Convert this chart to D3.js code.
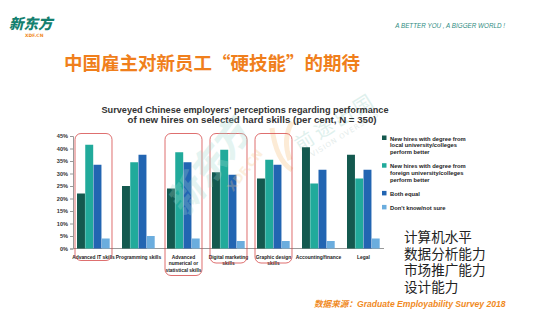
<!DOCTYPE html>
<html><head><meta charset="utf-8">
<script src="https://cdn.jsdelivr.net/npm/d3@7"></script>
<style>html,body{margin:0;padding:0;background:#fff;}svg{display:block;}</style>
</head><body>
<script>
const categories = [
  ["Advanced IT skills"],
  ["Programming skills"],
  ["Advanced", "numerical or", "statistical skills"],
  ["Digital marketing", "skills"],
  ["Graphic design", "skills"],
  ["Accounting/finance"],
  ["Legal"]
];
const seriesNames = [
  ["New hires with degree from", "local university/colleges", "perform better"],
  ["New hires with degree from", "foreign university/colleges", "perform better"],
  ["Both equal"],
  ["Don't know/not sure"]
];
const localBetter   = [22, 25, 24, 30.5, 28, 40.5, 37.5];
const foreignBetter = [41.5, 34.5, 38.5, 39.5, 35.5, 26, 28];
const bothEqual     = [33.5, 37.5, 34.5, 29.5, 33.5, 31.5, 31.5];
const dontKnow      = [4, 5, 4, 3, 3, 3, 4];
const highlighted   = [0, 2, 3, 4];
const yTicks = [0, 5, 10, 15, 20, 25, 30, 35, 40, 45];
const chineseNotes = ["计算机水平", "数据分析能力", "市场推广能力", "设计能力"];

const series = [localBetter, foreignBetter, bothEqual, dontKnow];
const colors = ["#14594f", "#21aa9b", "#2265b2", "#6badde"];

const W = 540, H = 322;
const svg = d3.select("body").append("svg").attr("width", W).attr("height", H);

// header
svg.append("text").attr("x", 9).attr("y", 29).attr("font-family", "Noto Sans CJK SC")
  .attr("font-weight", 900).attr("font-size", 14.5).attr("fill", "#14806f")
  .attr("font-style", "italic").text("新东方");
svg.append("text").attr("x", 25).attr("y", 36.5).attr("font-family", "DejaVu Sans")
  .attr("font-weight", "bold").attr("font-size", 4.5).attr("fill", "#f08a1e").text("XDF.CN");
svg.append("text").attr("x", 505).attr("y", 28).attr("text-anchor", "end")
  .attr("font-family", "Liberation Sans").attr("font-style", "italic").attr("font-size", 6.3)
  .attr("fill", "#2f8c82").text("A BETTER YOU , A BIGGER WORLD !");

svg.append("text").attr("x", 64).attr("y", 70).attr("font-family", "Noto Sans CJK SC")
  .attr("font-weight", "bold").attr("font-size", 18.5).attr("fill", "#f07f1c")
  .text("中国雇主对新员工“硬技能”的期待");

// faint background watermark (vision overseas)
const wm2 = svg.append("g").attr("transform", "translate(300,152) rotate(-32)").attr("opacity", 0.45);
wm2.append("text").attr("font-family", "Noto Sans CJK SC").attr("font-size", 19)
  .attr("fill", "#b9dfd8").attr("letter-spacing", 4).text("前途出国");
wm2.append("text").attr("x", 8).attr("y", 11).attr("font-family", "DejaVu Sans").attr("font-size", 7)
  .attr("fill", "#c4d6d3").attr("letter-spacing", 1).text("VISION OVERSEAS");
svg.append("path").attr("d", "M272,128 Q276,160 292,170 M292,122 Q282,140 290,160")
  .attr("fill", "none").attr("stroke", "#fbe3c4").attr("stroke-width", 5).attr("opacity", 0.7);

// chart title
svg.append("text").attr("x", 245).attr("y", 113).attr("text-anchor", "middle")
  .attr("font-family", "Liberation Sans").attr("font-weight", "bold")
  .attr("font-size", 9.6).attr("fill", "#333")
  .attr("textLength", 287).attr("lengthAdjust", "spacingAndGlyphs")
  .text("Surveyed Chinese employers' perceptions regarding performance");
svg.append("text").attr("x", 252).attr("y", 122.5).attr("text-anchor", "middle")
  .attr("font-family", "Liberation Sans").attr("font-weight", "bold")
  .attr("font-size", 9.6).attr("fill", "#333")
  .attr("textLength", 249).attr("lengthAdjust", "spacingAndGlyphs")
  .text("of new hires on selected hard skills (per cent, N = 350)");

// scales
const y = d3.scaleLinear().domain([0, 45]).range([248.5, 136]);
const x = d3.scaleBand().domain(d3.range(categories.length)).range([77, 380])
  .paddingInner(0.2667).paddingOuter(0);
const xs = d3.scaleBand().domain(d3.range(series.length)).range([0, x.bandwidth()]);

// y axis
const yAxis = d3.axisLeft(y).tickValues(yTicks).tickFormat(d => d + "%").tickSize(3).tickPadding(2);
const ya = svg.append("g").attr("transform", "translate(73,0)").call(yAxis);
ya.select(".domain").attr("stroke", "#999");
ya.selectAll(".tick line").attr("stroke", "#999");
ya.selectAll("text").attr("font-family", "Liberation Sans")
  .attr("font-weight", "bold").attr("font-size", 5.6).attr("fill", "#333");

// baseline
svg.append("line").attr("x1", 73).attr("x2", 384).attr("y1", y(0)).attr("y2", y(0))
  .attr("stroke", "#999").attr("stroke-width", 1);

// bars
const groups = svg.append("g").selectAll("g").data(categories).join("g")
  .attr("transform", (d, i) => `translate(${x(i)},0)`);
groups.selectAll("rect").data((d, i) => series.map((s, k) => ({k, v: s[i]}))).join("rect")
  .attr("x", d => xs(d.k)).attr("width", xs.bandwidth() - 0.3)
  .attr("y", d => y(d.v)).attr("height", d => y(0) - y(d.v))
  .attr("fill", d => colors[d.k]);

// category labels
groups.each(function(lines, i) {
  const t = d3.select(this).append("text").attr("text-anchor", "middle")
    .attr("font-family", "Liberation Sans").attr("font-weight", "bold")
    .attr("font-size", 4.9).attr("fill", "#222");
  lines.forEach((l, j) => t.append("tspan").attr("x", x.bandwidth() / 2).attr("y", 258.5 + j * 6.8).text(l));
});

// highlight boxes
highlighted.forEach(i => {
  const n = categories[i].length;
  svg.append("rect").attr("x", x(i) - 2).attr("y", 133.5).attr("width", x.bandwidth() + 4)
    .attr("height", n === 3 ? 142 : (n === 2 ? 129.5 : 127))
    .attr("rx", 6).attr("fill", "none").attr("stroke", "#d64a4a").attr("stroke-width", 0.8);
});

// watermark
const wm = svg.append("g").attr("transform", "translate(185,218) rotate(-52)").attr("opacity", 0.28);
wm.append("text").attr("font-family", "Noto Sans CJK SC").attr("font-weight", 900).attr("font-size", 36)
  .attr("fill", "#9fd8d0").attr("font-style", "italic").text("新东方");
wm.append("text").attr("x", 50).attr("y", 22).attr("font-family", "DejaVu Sans").attr("font-weight", "bold")
  .attr("font-size", 12).attr("fill", "#f5c98c").text("XDF.CN");

// legend
const lg = svg.append("g");
let ly = 139;
seriesNames.forEach((lines, k) => {
  lg.append("rect").attr("x", 382).attr("y", ly - 3.5).attr("width", 4.5).attr("height", 4.5).attr("fill", colors[k]);
  const t = lg.append("text").attr("font-family", "Liberation Sans")
    .attr("font-size", 5.8).attr("fill", "#222").attr("font-weight", "bold");
  lines.forEach((l, j) => t.append("tspan").attr("x", 390).attr("y", ly + 1.5 + j * 6.8).text(l));
  ly += lines.length === 3 ? 27.7 : 14;
});

// chinese notes (one text block)
const notes = svg.append("text").attr("font-family", "Noto Sans CJK SC")
  .attr("font-size", 13.6).attr("fill", "#222");
chineseNotes.forEach((s, i) => {
  notes.append("tspan").attr("x", 404).attr("y", 242 + i * 16.5).text(s);
});

// source
const src = svg.append("text").attr("x", 314).attr("y", 307).attr("font-family", "Liberation Sans")
  .attr("font-style", "italic").attr("font-weight", "bold").attr("font-size", 8.6).attr("fill", "#f08a1e");
src.append("tspan").attr("font-family", "Noto Sans CJK SC").text("数据来源：");
src.append("tspan").text("Graduate Employability Survey 2018");
</script>
</body></html>
